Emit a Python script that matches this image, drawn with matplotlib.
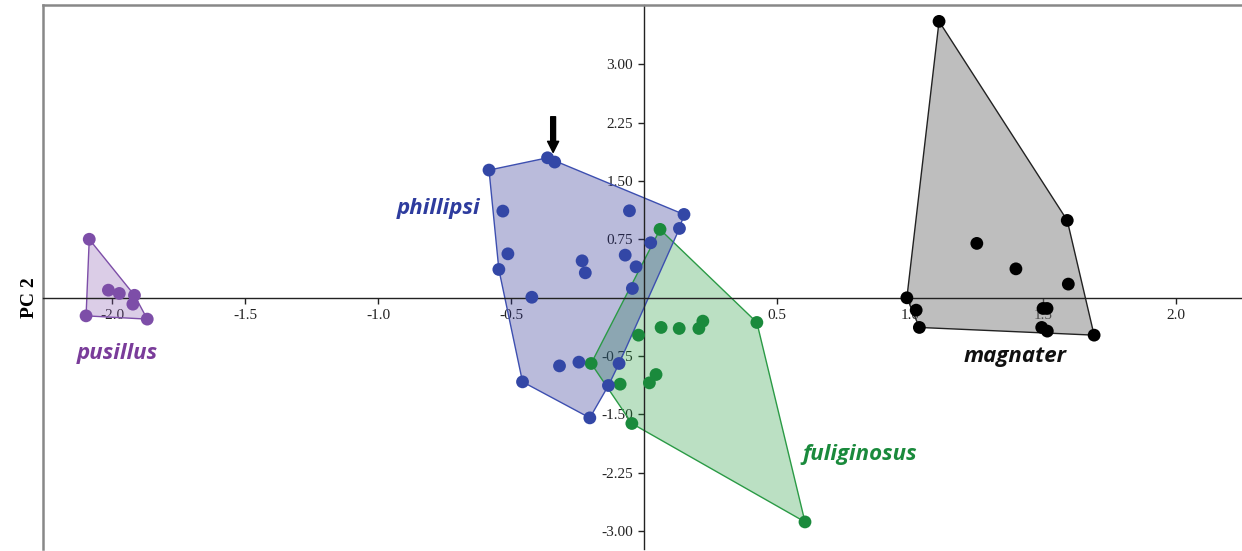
import matplotlib
matplotlib.use("Agg")
import matplotlib.pyplot as plt
import numpy as np

# PCA scores (PC1, PC2)
pusillus_x = [-2.086, -2.014, -1.973, -1.916, -1.922, -2.098, -1.868]
pusillus_y = [0.75, 0.096, 0.054, 0.03, -0.084, -0.234, -0.276]

phillipsi_x = [-0.583, -0.363, -0.336, -0.531, -0.055, 0.150, 0.133, 0.025,
               -0.512, -0.233, -0.071, -0.221, -0.030, -0.546, -0.044, -0.422,
               -0.318, -0.245, -0.094, -0.457, -0.134, -0.204]
phillipsi_y = [1.639, 1.797, 1.742, 1.112, 1.116, 1.069, 0.889, 0.705,
               0.563, 0.473, 0.546, 0.319, 0.396, 0.362, 0.118, 0.005,
               -0.877, -0.829, -0.846, -1.082, -1.129, -1.545]

fuliginosus_x = [0.060, -0.021, 0.064, 0.132, 0.206, 0.221, 0.424, -0.199,
                 0.045, 0.020, -0.090, -0.046, 0.605]
fuliginosus_y = [0.877, -0.482, -0.383, -0.396, -0.396, -0.302, -0.319, -0.846,
                 -0.988, -1.095, -1.112, -1.617, -2.882]

magnater_x = [1.109, 1.591, 1.251, 1.398, 1.595, 0.988, 1.023, 1.035,
              1.500, 1.515, 1.495, 1.516, 1.692]
magnater_y = [3.55, 0.992, 0.697, 0.370, 0.174, -0.002, -0.161, -0.383,
              -0.139, -0.139, -0.383, -0.430, -0.482]

x_ticks = [-2.0, -1.5, -1.0, -0.5, 0.5, 1.0, 1.5, 2.0]
y_ticks = [-3.0, -2.25, -1.5, -0.75, 0.75, 1.5, 2.25, 3.0]


def hull(xs, ys):
    # monotone chain convex hull
    pts = sorted(set(zip(xs, ys)))

    def cross(o, a, b):
        return (a[0] - o[0]) * (b[1] - o[1]) - (a[1] - o[1]) * (b[0] - o[0])

    lower, upper = [], []
    for p in pts:
        while len(lower) >= 2 and cross(lower[-2], lower[-1], p) <= 0:
            lower.pop()
        lower.append(p)
    for p in reversed(pts):
        while len(upper) >= 2 and cross(upper[-2], upper[-1], p) <= 0:
            upper.pop()
        upper.append(p)
    return np.array(lower[:-1] + upper[:-1])


fig = plt.figure(figsize=(12.42, 5.51), dpi=100)
ax = fig.add_axes([0.0346, 0.0036, 0.9654, 0.9873])
ax.set_xlim(-2.26, 2.248)
ax.set_ylim(-3.23, 3.76)
ax.set_axisbelow(True)

groups = [
    (pusillus_x, pusillus_y, "#7d4ea8", "#7d4ea8", "#8a5bb0", 0.3),
    (fuliginosus_x, fuliginosus_y, "#1a8a3c", "#2a9a45", "#1f9a3a", 0.3),
    (phillipsi_x, phillipsi_y, "#3347a6", "#3d4fb0", "#2e3192", 0.33),
    (magnater_x, magnater_y, "#000000", "#222222", "#7f7f7f", 0.5),
]
for xs, ys, pc, ec, fc, a in groups:
    h = hull(xs, ys)
    ax.fill(h[:, 0], h[:, 1], facecolor=fc, alpha=a, edgecolor="none", zorder=1)
    ax.fill(h[:, 0], h[:, 1], facecolor="none", edgecolor=ec, lw=1.0, zorder=1.5)
for xs, ys, pc, ec, fc, a in groups:
    ax.scatter(xs, ys, s=85, color=pc, edgecolors="none", zorder=3)

# axes through the origin
for side in ["left", "bottom"]:
    ax.spines[side].set_position(("data", 0))
    ax.spines[side].set_color("#222222")
    ax.spines[side].set_linewidth(1.0)
ax.spines["right"].set_visible(False)
ax.spines["top"].set_color("#888888")
ax.spines["top"].set_linewidth(1.8)
ax.axvline(ax.get_xlim()[0], color="#888888", lw=1.8, clip_on=False)

ax.set_xticks(x_ticks)
ax.set_xticklabels(["%.1f" % v for v in x_ticks])
ax.set_yticks(y_ticks)
ax.set_yticklabels(["%.2f" % v for v in y_ticks])
ax.tick_params(direction="out", length=4, width=1, color="#222222",
               labelsize=11, pad=4)
for lab in ax.get_xticklabels() + ax.get_yticklabels():
    lab.set_fontfamily("Liberation Serif")
    lab.set_color("#222222")

fig.text(0.024, 0.46, "PC 2", rotation=90, ha="center", va="center",
         fontsize=14, fontweight="bold", family="Liberation Serif")

lab_font = dict(fontsize=16, fontweight="bold", fontstyle="italic",
                family="Open Sans", ha="center", va="center")
ax.text(-0.773, 1.15, "phillipsi", color="#2e3c9e", **lab_font)
ax.text(-1.981, -0.713, "pusillus", color="#7a3c9a", **lab_font)
ax.text(0.812, -2.02, "fuliginosus", color="#1a8a3c", **lab_font)
ax.text(1.395, -0.752, "magnater", color="#111111", **lab_font)

ax.annotate("", xy=(-0.342, 1.83), xytext=(-0.342, 2.36),
            arrowprops=dict(arrowstyle="simple,head_width=0.8,head_length=0.8,tail_width=0.35",
                            fc="black", ec="black"))

fig.savefig("out.png", dpi=100)
